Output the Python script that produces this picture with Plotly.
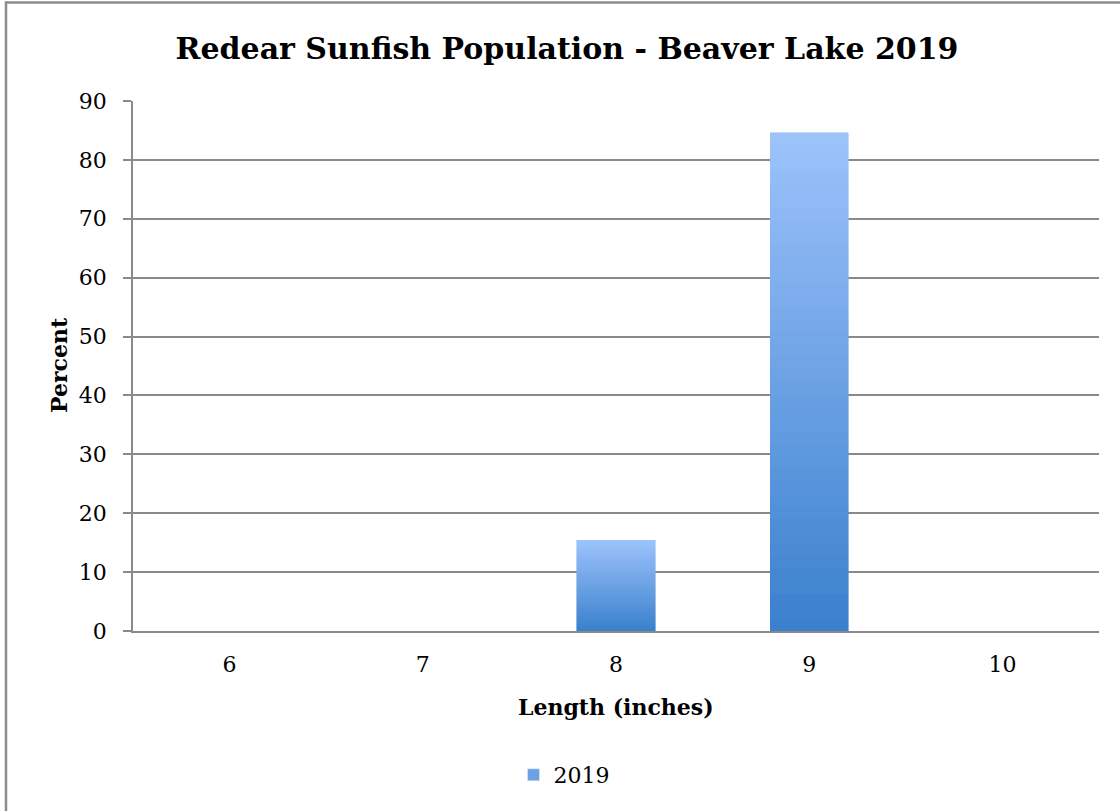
import plotly.graph_objects as go

# Data
lengths = ["6", "7", "8", "9", "10"]
percent_2019 = [0, 0, 15.4, 84.6, 0]
series_name = "2019"
y_ticks = [0, 10, 20, 30, 40, 50, 60, 70, 80, 90]

TOP = (157, 195, 251)
BOT = (58, 128, 205)
N = 40

def mix(t):
    r = [round(BOT[i] + (TOP[i] - BOT[i]) * t) for i in range(3)]
    return f"rgb({r[0]},{r[1]},{r[2]})"

fig = go.Figure()
for k in range(N):
    c = mix((k + 0.5) / N)
    fig.add_trace(go.Bar(
        x=lengths, y=[v / N for v in percent_2019],
        marker=dict(color=c, line=dict(color=c, width=0.6)),
        showlegend=False, hoverinfo="skip", width=0.405,
    ))
# legend entry
fig.add_trace(go.Bar(
    x=[lengths[0]], y=[0], name=series_name,
    marker=dict(color=mix(0.5)), showlegend=True, width=0.405,
))

FONT = "DejaVu Serif"
grid = "#8a8a8a"

pl, pr, pt, pb = 133, 1099, 101, 631
W, H = pr - pl, pb - pt
def px(x):
    return (x - pl) / W
def py(y):
    return (pb - y) / H

fig.add_shape(type="rect", xref="paper", yref="paper",
              x0=px(6), x1=px(1130), y0=py(2.5), y1=py(830),
              line=dict(color="#8c8c8c", width=2.5), fillcolor="rgba(0,0,0,0)")

fig.add_annotation(text="<b>Length (inches)</b>", xref="paper", yref="paper",
                   x=px(616), y=py(707), xanchor="center", yanchor="middle",
                   showarrow=False,
                   font=dict(family=FONT, size=22, color="black"))
fig.add_annotation(text="<b>Percent</b>", xref="paper", yref="paper",
                   x=px(59), y=py(365), xanchor="center", yanchor="middle",
                   showarrow=False, textangle=-90,
                   font=dict(family=FONT, size=22, color="black"))

fig.update_layout(
    width=1120, height=811,
    margin=dict(l=pl, r=1120 - pr, t=pt, b=811 - pb),
    paper_bgcolor="white", plot_bgcolor="white",
    barmode="stack", bargap=0.6,
    title=dict(text="<b>Redear Sunfish Population - Beaver Lake 2019</b>",
               x=567 / 1120, xanchor="center", y=1 - 48 / 811, yanchor="middle",
               xref="container", yref="container",
               font=dict(family=FONT, size=30, color="black")),
    font=dict(family=FONT, size=22, color="black"),
    legend=dict(orientation="h", x=px(564), y=py(775), xanchor="center",
                yanchor="middle", font=dict(family=FONT, size=22, color="black"),
                bgcolor="rgba(0,0,0,0)"),
    xaxis=dict(type="category", showline=True, linecolor=grid, linewidth=2,
               ticks="", showgrid=False, tickfont=dict(family=FONT, size=22),
               ticklabelstandoff=13),
    yaxis=dict(range=[0, 90], tickvals=y_ticks, showgrid=True, gridcolor=grid,
               gridwidth=1.5, showline=True, linecolor=grid, linewidth=1.5,
               ticks="outside", ticklen=8, tickcolor=grid, tickwidth=1.5,
               zeroline=False, tickfont=dict(family=FONT, size=22),
               ticklabelstandoff=12),
)

fig.write_html("out.html")
